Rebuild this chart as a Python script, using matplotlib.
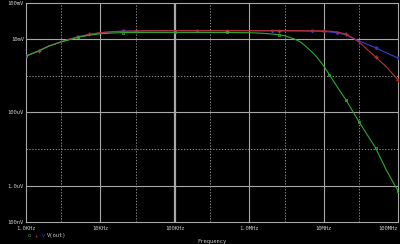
import matplotlib
matplotlib.use("Agg")
import matplotlib.pyplot as plt

# frequency points (Hz) and V(out) magnitude (mV) for three runs
freq = [1e3, 1.5e3, 2e3, 3e3, 5e3, 7e3, 1e4, 1.5e4, 2e4, 3e4, 5e4, 1e5, 2e5, 5e5,
        1e6, 1.5e6, 2e6, 2.5e6, 3e6, 4e6, 5e6, 6e6, 7e6, 8e6, 1e7, 1.2e7, 1.5e7, 2e7,
        3e7, 5e7, 7e7, 1e8]
green_mv = [3.5, 4.9, 6.5, 8.6, 11.4, 13.0, 14.3, 15.1, 15.4, 15.5, 15.6, 15.6, 15.6, 15.5,
            15.3, 14.8, 14.1, 13.4, 12.6, 10.4, 8.3, 6.0, 4.5, 3.4, 1.9, 1.07, 0.53, 0.22,
            0.055, 0.0107, 0.0026, 0.00071]
red_mv = [3.5, 4.9, 6.5, 8.7, 11.8, 13.7, 15.3, 16.4, 16.8, 17.1, 17.3, 17.4, 17.4, 17.4,
          17.4, 17.4, 17.4, 17.4, 17.4, 17.4, 17.4, 17.4, 17.3, 17.3, 17.2, 16.8, 16.1, 14.1,
          8.5, 3.3, 1.77, 0.78]
blue_mv = [3.5, 4.9, 6.5, 8.7, 11.8, 13.7, 15.3, 16.4, 16.8, 17.1, 17.3, 17.4, 17.4, 17.3,
           17.3, 17.2, 17.2, 17.1, 17.1, 17.0, 17.0, 16.9, 16.8, 16.7, 16.5, 16.0, 15.3, 13.3,
           9.1, 5.9, 4.3, 3.1]

xticks = [1e3, 1e4, 1e5, 1e6, 1e7, 1e8]
xlabels = ["1.0KHz", "10KHz", "100KHz", "1.0MHz", "10MHz", "100MHz"]
yticks = [1e-1, 1e-2, 1e-4, 1e-6, 1e-7]
ylabels = ["100mV", "10mV", "100uV", "1.0uV", "100nV"]

grid_c = "#a8a8a8"
text_c = "#c8c8c8"
font = {"family": "DejaVu Sans Mono", "size": 4, "color": text_c}

fig = plt.figure(figsize=(4, 2.44), dpi=100, facecolor="black")
ax = fig.add_axes([0.065, 0.09, 0.93, 0.898], facecolor="black")
ax.set_xscale("log")
ax.set_yscale("log")
ax.set_xlim(1e3, 1e8)
ax.set_ylim(1e-7, 1e-1)

# grid: solid at labelled decades, dotted in between
for f in [1e4, 1e5, 1e6, 1e7]:
    ax.axvline(f, color=grid_c, lw=1.6 if f == 1e5 else 0.8, zorder=1)
for f in [3e3, 3e4, 3e5, 3e6, 3e7]:
    ax.axvline(f, color=grid_c, lw=0.6, ls=(0, (1.5, 2)), zorder=1)
for v in [1e-2, 1e-4, 1e-6]:
    ax.axhline(v, color=grid_c, lw=0.8, zorder=1)
for v in [1e-3, 1e-5]:
    ax.axhline(v, color=grid_c, lw=0.6, ls=(0, (1.5, 2)), zorder=1)

volts = lambda s: [v * 1e-3 for v in s]
ax.plot(freq, volts(blue_mv), color="#3a3ad0", lw=0.8, marker="v", ms=1.8,
        markevery=[0, 4, 8, 12, 16, 22, 26, 29, 31], zorder=3)
ax.plot(freq, volts(red_mv), color="#b83030", lw=0.8, marker="+", ms=2.2,
        markevery=[1, 5, 9, 13, 17, 24, 27, 29, 31], zorder=4)
ax.plot(freq, volts(green_mv), color="#30a830", lw=0.8, marker="s", ms=2,
        mfc="none", mew=0.6, markevery=[0, 4, 8, 11, 13, 17, 25, 27, 28, 29, 31], zorder=5)

for s in ax.spines.values():
    s.set_color(grid_c)
    s.set_linewidth(0.8)
ax.set_xticks(xticks)
ax.set_xticklabels(xlabels, fontdict=font)
ax.get_xticklabels()[-1].set_horizontalalignment("right")
ax.set_yticks(yticks)
ax.set_yticklabels(ylabels, fontdict=font)
ax.minorticks_off()
ax.tick_params(axis="both", length=2, width=0.6, color=grid_c, direction="in")
ax.tick_params(axis="x", pad=3)
ax.tick_params(axis="y", pad=1.5)

fig.text(0.53, 0.0, "Frequency", ha="center", va="bottom", fontdict=font)
fig.text(0.07, 0.028, "o", color="#30a830", fontsize=4, family="DejaVu Sans Mono")
fig.text(0.088, 0.028, "+", color="#b83030", fontsize=4, family="DejaVu Sans Mono")
fig.text(0.105, 0.028, "v", color="#3a3ad0", fontsize=4, family="DejaVu Sans Mono")
fig.text(0.118, 0.028, "V(out)", fontdict=font)

fig.savefig("out.png", dpi=100, facecolor="black")
